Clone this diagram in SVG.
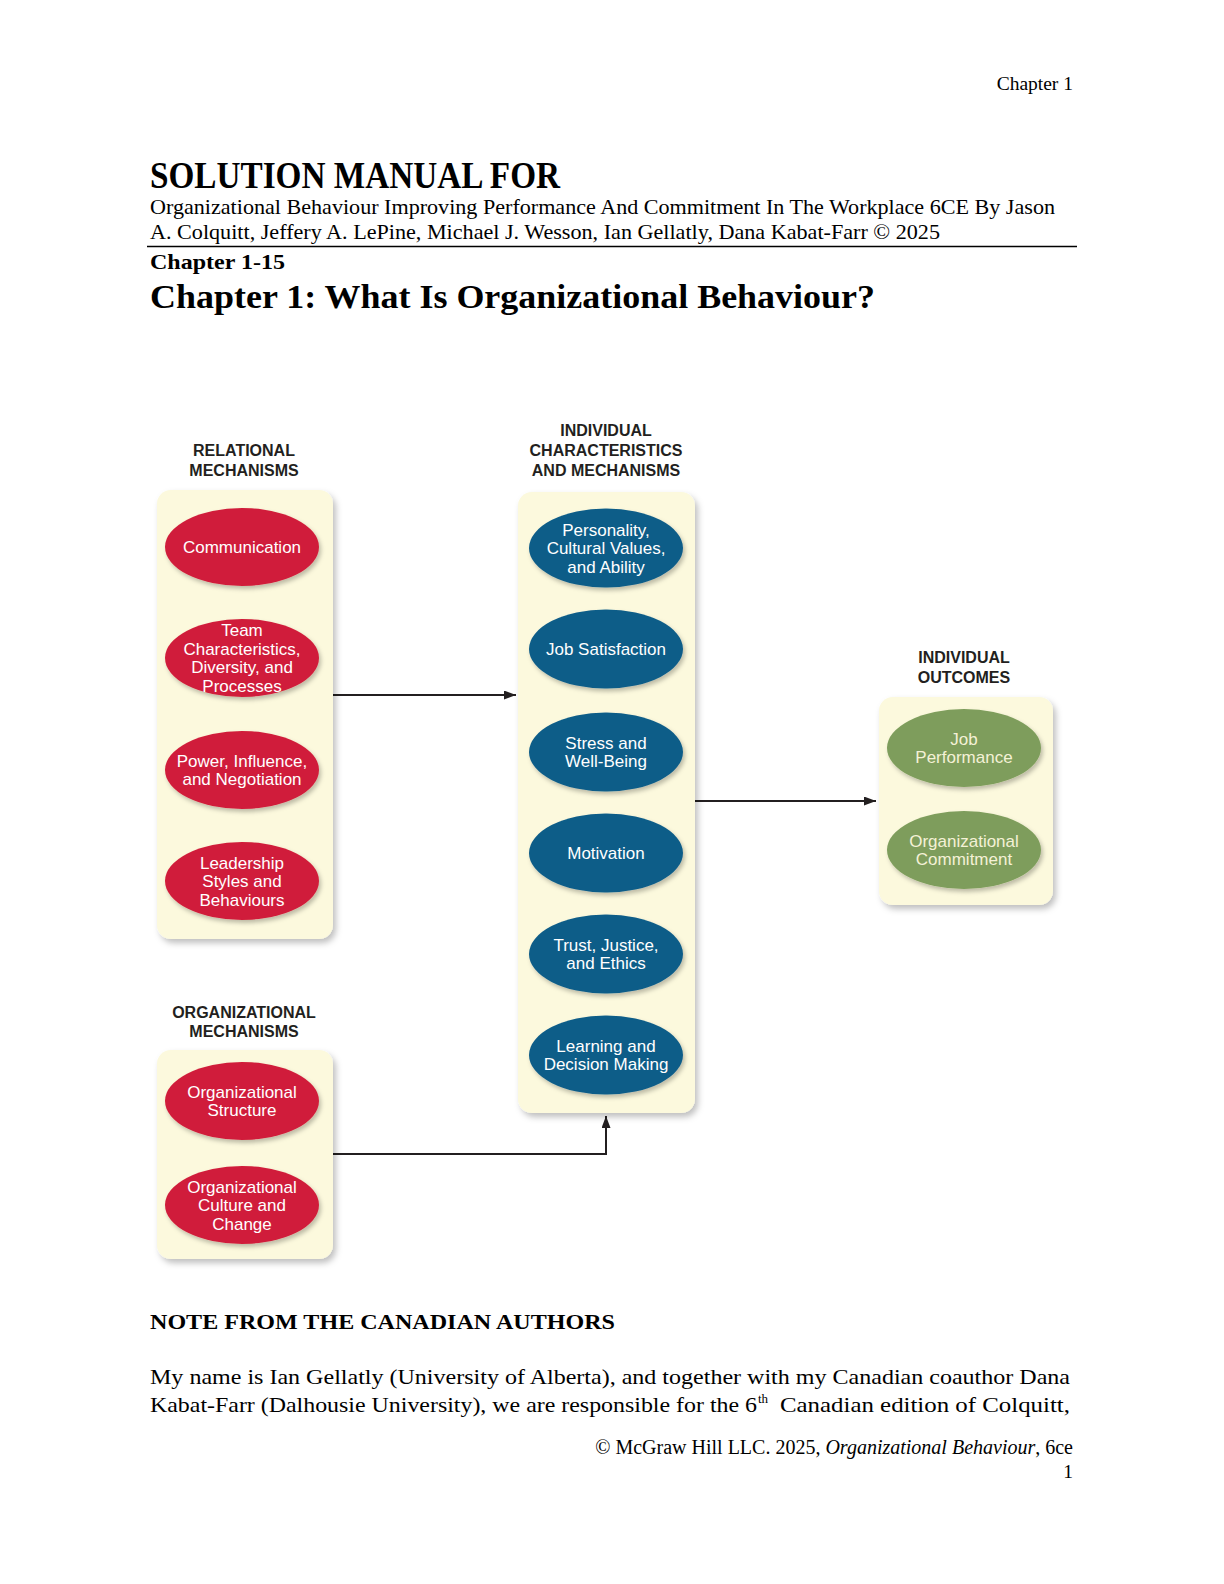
<svg xmlns="http://www.w3.org/2000/svg" width="1224" height="1584" viewBox="0 0 1224 1584">
<style>
.doc{font-family:"Liberation Serif","Times New Roman",serif;fill:#000}
.hd{font-family:"Liberation Sans",Arial,sans-serif;font-weight:700;font-size:16px;fill:#231f20;text-anchor:middle}
.panel{fill:#fcf9dd}
.red{fill:#d01f3a}
.blue{fill:#0f5d88}
.green{fill:#7e9d5b}
.lbl{font-family:"Liberation Sans",Arial,sans-serif;font-size:17px;fill:#ffffff;text-anchor:middle}
.lblg{font-family:"Liberation Sans",Arial,sans-serif;font-size:17px;fill:#f4f1d6;text-anchor:middle}
.conn{fill:none;stroke:#231f20;stroke-width:2}
</style>
<defs>
<filter id="sh" x="-20%" y="-20%" width="150%" height="150%">
<feDropShadow dx="3" dy="4" stdDeviation="3" flood-color="#000" flood-opacity="0.25"/>
</filter>
<filter id="esh" x="-20%" y="-20%" width="150%" height="150%">
<feDropShadow dx="2" dy="3" stdDeviation="2" flood-color="#000" flood-opacity="0.25"/>
</filter>
<marker id="ah2" viewBox="0 0 12 9" refX="12" refY="4.5" markerWidth="12" markerHeight="9" orient="auto" markerUnits="userSpaceOnUse">
<path d="M0,0 L12,4.5 L0,9 z" fill="#231f20"/>
</marker>
</defs>
<rect width="1224" height="1584" fill="#ffffff"/>

<g id="page-header">
<text class="doc" x="1073" y="90" font-size="19.5" text-anchor="end">Chapter 1</text>
<text class="doc" x="150" y="188" font-size="38" font-weight="700" textLength="410" lengthAdjust="spacingAndGlyphs">SOLUTION MANUAL FOR</text>
<text class="doc" x="150" y="214" font-size="21.5" textLength="905" lengthAdjust="spacingAndGlyphs">Organizational Behaviour Improving Performance And Commitment In The Workplace 6CE By Jason</text>
<text class="doc" x="150" y="239" font-size="21.5" textLength="790" lengthAdjust="spacingAndGlyphs">A. Colquitt, Jeffery A. LePine, Michael J. Wesson, Ian Gellatly, Dana Kabat-Farr © 2025</text>
<line x1="147" y1="246.5" x2="1077" y2="246.5" stroke="#000" stroke-width="1.5"/>
<text class="doc" x="150" y="269" font-size="21.5" font-weight="700" textLength="135" lengthAdjust="spacingAndGlyphs">Chapter 1-15</text>
<text class="doc" x="150" y="308" font-size="34" font-weight="700" textLength="725" lengthAdjust="spacingAndGlyphs">Chapter 1: What Is Organizational Behaviour?</text>
</g>

<g id="connectors">
<path class="conn" d="M333,695 H516" marker-end="url(#ah2)"/>
<path class="conn" d="M695,801 H876" marker-end="url(#ah2)"/>
<path class="conn" d="M333,1154 H606 V1116" marker-end="url(#ah2)"/>
</g>

<g id="relational-mechanisms">
<text class="hd" x="244" y="456">RELATIONAL</text>
<text class="hd" x="244" y="476">MECHANISMS</text>
<rect class="panel" x="157" y="490" width="176" height="449" rx="14" filter="url(#sh)"/>
<g id="communication">
<ellipse class="red" cx="242" cy="547" rx="77" ry="39" filter="url(#esh)"/>
<text class="lbl" x="242" y="553">Communication</text>
</g>
<g id="team-characteristics">
<ellipse class="red" cx="242" cy="658" rx="77" ry="39" filter="url(#esh)"/>
<text class="lbl" x="242" y="636">Team</text>
<text class="lbl" x="242" y="654.5">Characteristics,</text>
<text class="lbl" x="242" y="673">Diversity, and</text>
<text class="lbl" x="242" y="691.5">Processes</text>
</g>
<g id="power-influence">
<ellipse class="red" cx="242" cy="770" rx="77" ry="39" filter="url(#esh)"/>
<text class="lbl" x="242" y="766.5">Power, Influence,</text>
<text class="lbl" x="242" y="785">and Negotiation</text>
</g>
<g id="leadership">
<ellipse class="red" cx="242" cy="881" rx="77" ry="39" filter="url(#esh)"/>
<text class="lbl" x="242" y="868.5">Leadership</text>
<text class="lbl" x="242" y="887">Styles and</text>
<text class="lbl" x="242" y="905.5">Behaviours</text>
</g>
</g>

<g id="organizational-mechanisms">
<text class="hd" x="244" y="1018">ORGANIZATIONAL</text>
<text class="hd" x="244" y="1037">MECHANISMS</text>
<rect class="panel" x="157" y="1050" width="176" height="209" rx="14" filter="url(#sh)"/>
<g id="org-structure">
<ellipse class="red" cx="242" cy="1101" rx="77" ry="39" filter="url(#esh)"/>
<text class="lbl" x="242" y="1097.5">Organizational</text>
<text class="lbl" x="242" y="1116">Structure</text>
</g>
<g id="org-culture">
<ellipse class="red" cx="242" cy="1205" rx="77" ry="39" filter="url(#esh)"/>
<text class="lbl" x="242" y="1192.5">Organizational</text>
<text class="lbl" x="242" y="1211">Culture and</text>
<text class="lbl" x="242" y="1229.5">Change</text>
</g>
</g>

<g id="individual-characteristics">
<text class="hd" x="606" y="436">INDIVIDUAL</text>
<text class="hd" x="606" y="456">CHARACTERISTICS</text>
<text class="hd" x="606" y="476">AND MECHANISMS</text>
<rect class="panel" x="518" y="492" width="177" height="621" rx="14" filter="url(#sh)"/>
<g id="personality">
<ellipse class="blue" cx="606" cy="548" rx="77" ry="39.5" filter="url(#esh)"/>
<text class="lbl" x="606" y="535.5">Personality,</text>
<text class="lbl" x="606" y="554">Cultural Values,</text>
<text class="lbl" x="606" y="572.5">and Ability</text>
</g>
<g id="job-satisfaction">
<ellipse class="blue" cx="606" cy="649" rx="77" ry="39.5" filter="url(#esh)"/>
<text class="lbl" x="606" y="655">Job Satisfaction</text>
</g>
<g id="stress">
<ellipse class="blue" cx="606" cy="752" rx="77" ry="39.5" filter="url(#esh)"/>
<text class="lbl" x="606" y="748.5">Stress and</text>
<text class="lbl" x="606" y="767">Well-Being</text>
</g>
<g id="motivation">
<ellipse class="blue" cx="606" cy="853" rx="77" ry="39.5" filter="url(#esh)"/>
<text class="lbl" x="606" y="859">Motivation</text>
</g>
<g id="trust">
<ellipse class="blue" cx="606" cy="954" rx="77" ry="39.5" filter="url(#esh)"/>
<text class="lbl" x="606" y="950.5">Trust, Justice,</text>
<text class="lbl" x="606" y="969">and Ethics</text>
</g>
<g id="learning">
<ellipse class="blue" cx="606" cy="1055" rx="77" ry="39.5" filter="url(#esh)"/>
<text class="lbl" x="606" y="1051.5">Learning and</text>
<text class="lbl" x="606" y="1070">Decision Making</text>
</g>
</g>

<g id="individual-outcomes">
<text class="hd" x="964" y="663">INDIVIDUAL</text>
<text class="hd" x="964" y="683">OUTCOMES</text>
<rect class="panel" x="879" y="697" width="174" height="208" rx="14" filter="url(#sh)"/>
<g id="job-performance">
<ellipse class="green" cx="964" cy="748" rx="77" ry="39" filter="url(#esh)"/>
<text class="lblg" x="964" y="744.5">Job</text>
<text class="lblg" x="964" y="763">Performance</text>
</g>
<g id="org-commitment">
<ellipse class="green" cx="964" cy="850" rx="77" ry="39" filter="url(#esh)"/>
<text class="lblg" x="964" y="846.5">Organizational</text>
<text class="lblg" x="964" y="865">Commitment</text>
</g>
</g>

<g id="page-body">
<text class="doc" x="150" y="1329" font-size="21.5" font-weight="700" textLength="465" lengthAdjust="spacingAndGlyphs">NOTE FROM THE CANADIAN AUTHORS</text>
<text class="doc" x="150" y="1384" font-size="21.5" textLength="920" lengthAdjust="spacingAndGlyphs">My name is Ian Gellatly (University of Alberta), and together with my Canadian coauthor Dana</text>
<text class="doc" x="150" y="1412" font-size="21.5" textLength="607" lengthAdjust="spacingAndGlyphs">Kabat-Farr (Dalhousie University), we are responsible for the 6</text>
<text class="doc" x="758" y="1403" font-size="13">th</text>
<text class="doc" x="780" y="1412" font-size="21.5" textLength="290" lengthAdjust="spacingAndGlyphs">Canadian edition of Colquitt,</text>
<text class="doc" x="1073" y="1454" font-size="20" text-anchor="end">© McGraw Hill LLC. 2025, <tspan font-style="italic">Organizational Behaviour</tspan>, 6ce</text>
<text class="doc" x="1073" y="1478" font-size="19.5" text-anchor="end">1</text>
</g>
</svg>
